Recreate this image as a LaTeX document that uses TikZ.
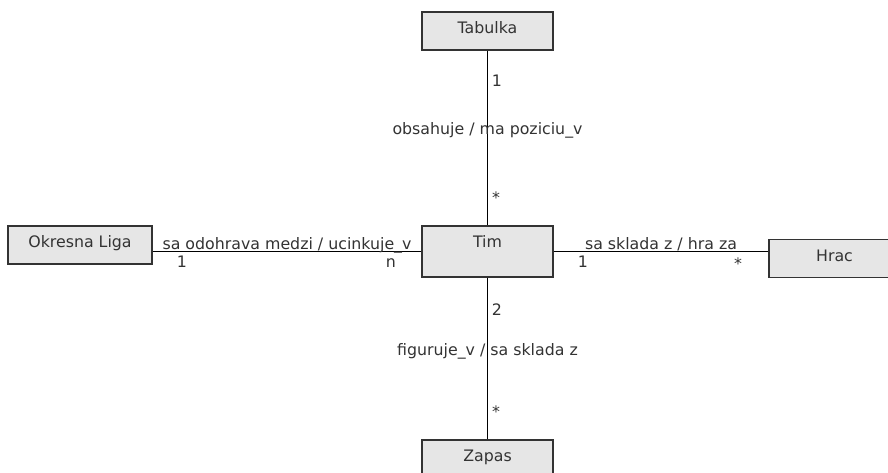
\documentclass[tikz,border=0pt]{standalone}
\usepackage{fontspec}
\setmainfont{DejaVu Sans}
\usetikzlibrary{positioning}
\definecolor{boxfill}{HTML}{E6E6E6}
\definecolor{ink}{HTML}{333333}

\begin{document}
\begin{tikzpicture}[x=1pt,y=-1pt,
  font=\fontsize{15.8}{18}\selectfont,
  entity/.style={draw=ink, fill=boxfill, line width=1.4pt, minimum width=131pt,
    inner sep=0pt, text height=21.5pt, text depth=16.5pt, text=ink},
  rel/.style={line width=1.2pt},
  lbl/.style={text=ink, inner sep=0pt, anchor=base}]
  \def\mid{487.5}
  \useasboundingbox (0,0) rectangle (888,473);
  % entities
  \node[entity, text depth=29.5pt] (tim) at (\mid,251.5) {Tim};
  \node[entity] (tabulka) at (\mid,31) {Tabulka};
  \node[entity] (zapas) at (\mid,459) {Zapas};
  \node[entity, minimum width=144pt] (liga) at (80,245) {Okresna Liga};
  \node[entity] (hrac) at (834.5,258.5) {Hrac};
  % relations
  \draw[rel] (tabulka) -- (tim);
  \draw[rel] (tim) -- (zapas);
  \draw[rel] (tim.west) -- (tim.west -| liga.east);
  \draw[rel] (tim.east) -- (tim.east -| hrac.west);
  % labels
  \node[lbl] at (\mid,135) {obsahuje / ma poziciu\_v};
  \node[lbl] at (497,87) {1};
  \node[lbl] at (496,204) {*};
  \node[lbl] at (\mid,355) {figuruje\_v / sa sklada z};
  \node[lbl] at (497,315) {2};
  \node[lbl] at (496,417) {*};
  \node[lbl] at (287,249) {sa odohrava medzi / ucinkuje\_v};
  \node[lbl] at (182,267) {1};
  \node[lbl] at (391,267) {n};
  \node[lbl] at (661,249) {sa sklada z / hra za};
  \node[lbl] at (583,267) {1};
  \node[lbl] at (738,269) {*};
\end{tikzpicture}
\end{document}
